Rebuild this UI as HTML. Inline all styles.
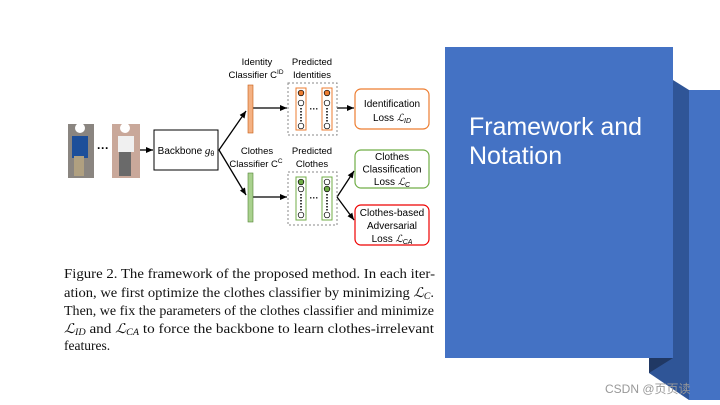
<!DOCTYPE html>
<html><head><meta charset="utf-8"><style>
html,body{margin:0;padding:0;background:#fff;}
svg{display:block;}
</style></head><body>
<svg width="720" height="405" viewBox="0 0 720 405" xmlns="http://www.w3.org/2000/svg">
<defs>
<marker id="ah" markerWidth="8" markerHeight="8" refX="7" refY="4" orient="auto" markerUnits="userSpaceOnUse">
<path d="M0,1 L7,4 L0,7 z" fill="#000"/></marker>
</defs>
<rect width="720" height="405" fill="#fff"/>
<polygon points="673,80 689,90 689,400 649,373 649,358 673,358" fill="#2f5597"/>
<polygon points="649,358 673,358 649,373" fill="#203864"/>
<rect x="689" y="90" width="31" height="310" fill="#4472c4"/>
<rect x="445" y="47" width="228" height="311" fill="#4472c4"/>
<text x="469" y="135" font-family="Liberation Sans, sans-serif" font-size="25" fill="#fff" textLength="173">Framework and</text>
<text x="469" y="164" font-family="Liberation Sans, sans-serif" font-size="25" fill="#fff">Notation</text>
<text x="605" y="393" font-family="Liberation Sans, 'Noto Sans CJK SC', sans-serif" font-size="12" fill="#999">CSDN @页页读</text>

<rect x="68" y="124" width="26" height="54" fill="#8a8580"/>
<rect x="72" y="136" width="16" height="22" fill="#1d4f9a"/>
<rect x="74" y="156" width="10" height="20" fill="#b0a080"/>
<circle cx="80" cy="128" r="5" fill="#fff"/>
<rect x="112" y="124" width="28" height="54" fill="#c9a89a"/>
<rect x="118" y="136" width="16" height="16" fill="#f0f0f0"/>
<rect x="119" y="152" width="12" height="24" fill="#6a6a6a"/>
<circle cx="125" cy="128" r="5" fill="#fff"/>
<text x="103" y="152" font-family="Liberation Sans, sans-serif" font-size="12" font-weight="bold" text-anchor="middle">···</text>

<g stroke="#000" stroke-width="1.3" fill="none">
<line x1="140" y1="150" x2="153" y2="150" marker-end="url(#ah)"/>
<rect x="154" y="130" width="64" height="40" stroke-width="1"/>
<line x1="219" y1="150" x2="246" y2="111" marker-end="url(#ah)"/>
<line x1="219" y1="150" x2="246" y2="195" marker-end="url(#ah)"/>
<line x1="253" y1="108" x2="287" y2="108" marker-end="url(#ah)"/>
<line x1="253" y1="197" x2="287" y2="197" marker-end="url(#ah)"/>
<line x1="337" y1="108" x2="354" y2="108" marker-end="url(#ah)"/>
<line x1="337" y1="197" x2="354" y2="171" marker-end="url(#ah)"/>
<line x1="337" y1="197" x2="354" y2="220" marker-end="url(#ah)"/>
</g>
<text x="186" y="154" font-family="Liberation Sans, sans-serif" font-size="10" text-anchor="middle">Backbone <tspan font-style="italic" font-family="Liberation Serif, serif" font-size="11">g</tspan><tspan font-size="7" dy="2">θ</tspan></text>

<rect x="248" y="85" width="5" height="48" fill="#f4b183" stroke="#c55a11" stroke-width="0.6"/>
<rect x="248" y="173" width="5" height="49" fill="#a9d18e" stroke="#548235" stroke-width="0.6"/>

<g font-family="Liberation Sans, sans-serif" font-size="9.5" text-anchor="middle" fill="#000">
<text x="257" y="65">Identity</text>
<text x="256" y="78">Classifier C<tspan font-size="6.5" dy="-4">ID</tspan></text>
<text x="312" y="65">Predicted</text>
<text x="312" y="78">Identities</text>
<text x="257" y="154">Clothes</text>
<text x="256" y="167">Classifier C<tspan font-size="6.5" dy="-4">C</tspan></text>
<text x="312" y="154">Predicted</text>
<text x="312" y="167">Clothes</text>
</g>

<rect x="288" y="83" width="49" height="52" fill="none" stroke="#888" stroke-dasharray="2,2"/>
<rect x="288" y="172" width="49" height="53" fill="none" stroke="#888" stroke-dasharray="2,2"/>
<g stroke-width="1" fill="none">
<rect x="296" y="88" width="10" height="42" stroke="#ed7d31"/>
<rect x="322" y="88" width="10" height="42" stroke="#ed7d31"/>
<rect x="296" y="177" width="10" height="43" stroke="#70ad47"/>
<rect x="322" y="177" width="10" height="43" stroke="#70ad47"/>
</g>
<g stroke="#000" stroke-width="0.7">
<circle cx="301" cy="93" r="2.8" fill="#ed7d31"/><circle cx="301" cy="103" r="2.8" fill="#fff"/><circle cx="301" cy="126" r="2.8" fill="#fff"/>
<circle cx="327" cy="93" r="2.8" fill="#ed7d31"/><circle cx="327" cy="103" r="2.8" fill="#fff"/><circle cx="327" cy="126" r="2.8" fill="#fff"/>
<circle cx="301" cy="182" r="2.8" fill="#70ad47"/><circle cx="301" cy="189" r="2.8" fill="#fff"/><circle cx="301" cy="215" r="2.8" fill="#fff"/>
<circle cx="327" cy="182" r="2.8" fill="#fff"/><circle cx="327" cy="189" r="2.8" fill="#70ad47"/><circle cx="327" cy="215" r="2.8" fill="#fff"/>
</g>
<g stroke="#000" stroke-width="1.5" stroke-dasharray="1.5,1.5">
<line x1="301" y1="108" x2="301" y2="122"/><line x1="327" y1="108" x2="327" y2="122"/>
<line x1="301" y1="194" x2="301" y2="211"/><line x1="327" y1="194" x2="327" y2="211"/>
</g>
<text x="314" y="112" font-family="Liberation Sans, sans-serif" font-size="9" font-weight="bold" text-anchor="middle">···</text>
<text x="314" y="201" font-family="Liberation Sans, sans-serif" font-size="9" font-weight="bold" text-anchor="middle">···</text>

<rect x="355" y="89" width="74" height="40" rx="6" fill="#fff" stroke="#ed7d31" stroke-width="1.2"/>
<rect x="355" y="150" width="74" height="38" rx="6" fill="#fff" stroke="#70ad47" stroke-width="1.2"/>
<rect x="355" y="205" width="74" height="40" rx="6" fill="#fff" stroke="#e00" stroke-width="1.2"/>
<g font-family="Liberation Sans, sans-serif" font-size="10" text-anchor="middle">
<text x="392" y="107">Identification</text>
<text x="392" y="121">Loss <tspan font-style="italic" font-family="Liberation Serif, serif">ℒ</tspan><tspan font-size="7" dy="2" font-style="italic">ID</tspan></text>
<text x="392" y="160">Clothes</text>
<text x="392" y="172.5">Classification</text>
<text x="392" y="185">Loss <tspan font-style="italic" font-family="Liberation Serif, serif">ℒ</tspan><tspan font-size="7" dy="2" font-style="italic">C</tspan></text>
<text x="392" y="216">Clothes-based</text>
<text x="392" y="229">Adversarial</text>
<text x="392" y="242">Loss <tspan font-style="italic" font-family="Liberation Serif, serif">ℒ</tspan><tspan font-size="7" dy="2" font-style="italic">CA</tspan></text>
</g>

<g font-family="Liberation Serif, serif" font-size="13.5" fill="#111">
<text x="64" y="278" textLength="371" lengthAdjust="spacingAndGlyphs">Figure 2.  The framework of the proposed method.  In each iter-</text>
<text x="64" y="297" textLength="370" lengthAdjust="spacingAndGlyphs">ation, we first optimize the clothes classifier by minimizing <tspan font-style="italic">ℒ</tspan><tspan font-size="9" font-style="italic" dy="2">C</tspan><tspan dy="-2">.</tspan></text>
<text x="64" y="315" textLength="370" lengthAdjust="spacingAndGlyphs">Then, we fix the parameters of the clothes classifier and minimize</text>
<text x="64" y="333" textLength="370" lengthAdjust="spacingAndGlyphs"><tspan font-style="italic">ℒ</tspan><tspan font-size="9" font-style="italic" dy="2">ID</tspan><tspan dy="-2"> and </tspan><tspan font-style="italic">ℒ</tspan><tspan font-size="9" font-style="italic" dy="2">CA</tspan><tspan dy="-2"> to force the backbone to learn clothes-irrelevant</tspan></text>
<text x="64" y="350">features.</text>
</g>
</svg>
</body></html>
